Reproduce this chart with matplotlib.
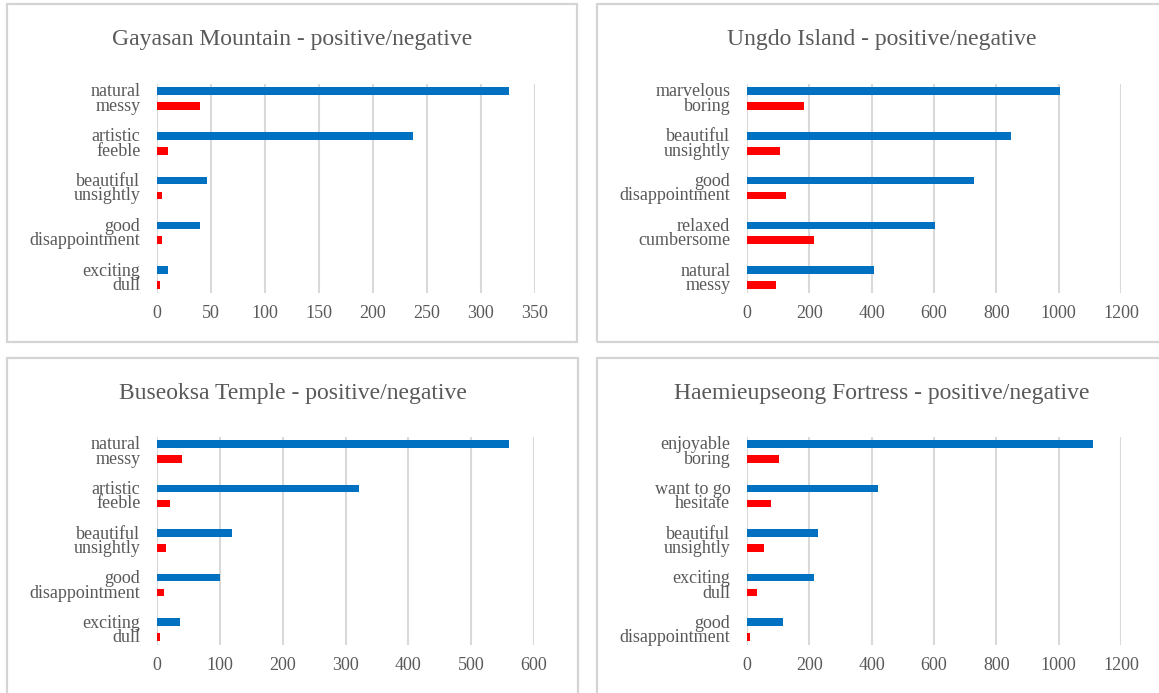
import matplotlib.pyplot as plt
from matplotlib.patches import Rectangle

# positive / negative word counts per site, top category first
gaya_pos_words = ["natural", "artistic", "beautiful", "good", "exciting"]
gaya_neg_words = ["messy", "feeble", "unsightly", "disappointment", "dull"]
gaya_pos = [326, 237, 46, 40, 10]
gaya_neg = [40, 10, 5, 5, 3]

ungdo_pos_words = ["marvelous", "beautiful", "good", "relaxed", "natural"]
ungdo_neg_words = ["boring", "unsightly", "disappointment", "cumbersome", "messy"]
ungdo_pos = [1005, 847, 727, 603, 409]
ungdo_neg = [182, 106, 124, 214, 94]

buseok_pos_words = ["natural", "artistic", "beautiful", "good", "exciting"]
buseok_neg_words = ["messy", "feeble", "unsightly", "disappointment", "dull"]
buseok_pos = [561, 321, 120, 101, 36]
buseok_neg = [40, 21, 15, 11, 5]

haemi_pos_words = ["enjoyable", "want to go", "beautiful", "exciting", "good"]
haemi_neg_words = ["boring", "hesitate", "unsightly", "dull", "disappointment"]
haemi_pos = [1109, 420, 227, 214, 114]
haemi_neg = [102, 77, 56, 31, 11]

W, H = 1159, 693
BLUE = "#0070C0"
RED = "#FF0000"
GRID = "#D9D9D9"
TEXT = "#595959"
FONT = ["Liberation Serif", "DejaVu Serif"]

plt.rcParams["font.family"] = FONT

fig = plt.figure(figsize=(W / 100, H / 100), dpi=100)


def px_axes(x0, y0, x1, y1):
    return fig.add_axes([x0 / W, 1 - y1 / H, (x1 - x0) / W, (y1 - y0) / H])


def panel(box, area, title, pos_words, neg_words, pos, neg, xmax, step):
    bx0, by0, bx1, by1 = box
    fig.patches.append(Rectangle((bx0 / W, 1 - by1 / H), (bx1 - bx0) / W, (by1 - by0) / H,
                                 transform=fig.transFigure, fill=False,
                                 edgecolor="#D4D4D4", linewidth=1.6))
    fig.text((bx0 + bx1) / 2 / W, 1 - (by0 + 35) / H, title, ha="center", va="center",
             fontsize=17, color=TEXT)

    ax = px_axes(*area)
    n = len(pos)
    ys = list(range(n))
    ax.barh(ys, pos, height=0.17, color=BLUE, zorder=3)
    ax.barh([y + 1 / 3 for y in ys], neg, height=0.17, color=RED, zorder=3)
    ax.set_ylim(4.51, -0.156)
    ax.set_xlim(0, xmax)
    ax.set_xticks(range(0, xmax + 1, step))
    ax.set_yticks([y + 1 / 6 for y in ys])
    ax.set_yticklabels([f"{p}\n{q}" for p, q in zip(pos_words, neg_words)],
                       linespacing=0.8, ha="right")
    ax.tick_params(axis="both", length=0, labelsize=13, colors=TEXT)
    ax.tick_params(axis="x", pad=9)
    ax.tick_params(axis="y", pad=12)
    ax.grid(axis="x", color=GRID, linewidth=1.5, zorder=0)
    for s in ax.spines.values():
        s.set_visible(False)
    ax.set_facecolor("none")
    return ax


panel((7, 4, 577, 342), (157, 84, 535, 293), "Gayasan Mountain - positive/negative",
      gaya_pos_words, gaya_neg_words, gaya_pos, gaya_neg, 350, 50)
panel((597, 4, 1166, 342), (747, 84, 1121, 293), "Ungdo Island - positive/negative",
      ungdo_pos_words, ungdo_neg_words, ungdo_pos, ungdo_neg, 1200, 200)
panel((7, 358, 578, 702), (157, 437, 534, 645), "Buseoksa Temple - positive/negative",
      buseok_pos_words, buseok_neg_words, buseok_pos, buseok_neg, 600, 100)
panel((597, 358, 1166, 702), (747, 437, 1121, 645), "Haemieupseong Fortress - positive/negative",
      haemi_pos_words, haemi_neg_words, haemi_pos, haemi_neg, 1200, 200)

fig.savefig("out.png", dpi=100)
